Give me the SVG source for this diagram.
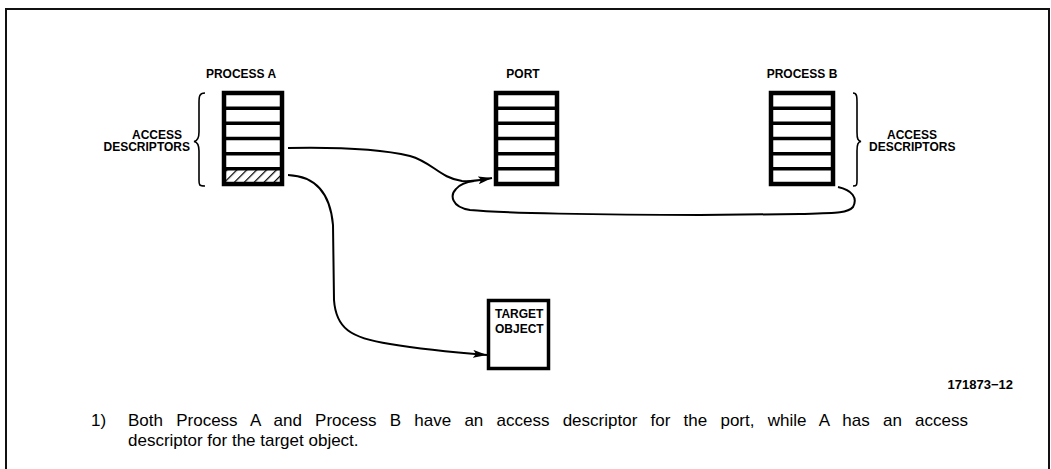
<svg xmlns="http://www.w3.org/2000/svg" width="1051" height="469" viewBox="0 0 1051 469">
  <style>
    .frame { fill: none; stroke: #111; stroke-width: 2; }
    .box { fill: #fff; stroke: #000; stroke-width: 4.5; }
    .div { stroke: #000; stroke-width: 3.5; }
    .brace { fill: none; stroke: #000; stroke-width: 1.6; }
    .wire { fill: none; stroke: #000; stroke-width: 2; }
    .lbl { font-family: "Liberation Sans", Arial, sans-serif; font-weight: bold; font-size: 12px; fill: #000; }
    .cap { font-family: "Liberation Sans", Arial, sans-serif; font-size: 17px; fill: #000; }
  </style>
  <defs>
    <pattern id="hatch" patternUnits="userSpaceOnUse" width="7" height="7" patternTransform="rotate(45)">
      <rect width="7" height="7" fill="#fff"/>
      <line x1="0" y1="0" x2="0" y2="7" stroke="#000" stroke-width="2.5"/>
    </pattern>
    <marker id="arrow" viewBox="0 0 14 8" refX="14" refY="4" markerWidth="14" markerHeight="8" markerUnits="userSpaceOnUse" orient="auto">
      <path d="M0,0 L14,4 L0,8 L3,4 Z" fill="#000"/>
    </marker>
  </defs>

  <!-- page frame -->
  <g id="frame">
    <path class="frame" d="M6,469 L6,9 L1049,9 L1049,469"/>
  </g>

  <!-- process A: access descriptor list -->
  <g id="process-a">
    <text class="lbl" x="241" y="78" text-anchor="middle">PROCESS A</text>
    <rect x="226" y="169.5" width="54" height="12.5" fill="url(#hatch)"/>
    <rect class="box" x="224" y="93" width="58" height="91" style="fill:none"/>
    <line class="div" x1="224" y1="108.2" x2="282" y2="108.2"/>
    <line class="div" x1="224" y1="123.3" x2="282" y2="123.3"/>
    <line class="div" x1="224" y1="138.5" x2="282" y2="138.5"/>
    <line class="div" x1="224" y1="153.7" x2="282" y2="153.7"/>
    <line class="div" x1="224" y1="168.8" x2="282" y2="168.8"/>
    <path class="brace" d="M205,93 C199,93 199,97 199,103 L199,132 C199,139 197,141 194,141.5 C197,142 199,144 199,151 L199,180 C199,185 199,186 205,186"/>
    <text class="lbl" x="182" y="139" text-anchor="end">ACCESS</text>
    <text class="lbl" x="190" y="151" text-anchor="end">DESCRIPTORS</text>
  </g>

  <!-- port: message queue -->
  <g id="port">
    <text class="lbl" x="523" y="78" text-anchor="middle">PORT</text>
    <rect class="box" x="496" y="93" width="61" height="91"/>
    <line class="div" x1="496" y1="108.2" x2="557" y2="108.2"/>
    <line class="div" x1="496" y1="123.3" x2="557" y2="123.3"/>
    <line class="div" x1="496" y1="138.5" x2="557" y2="138.5"/>
    <line class="div" x1="496" y1="153.7" x2="557" y2="153.7"/>
    <line class="div" x1="496" y1="168.8" x2="557" y2="168.8"/>
  </g>

  <!-- process B: access descriptor list -->
  <g id="process-b">
    <text class="lbl" x="802" y="78" text-anchor="middle">PROCESS B</text>
    <rect class="box" x="771" y="93" width="62" height="91"/>
    <line class="div" x1="771" y1="108.2" x2="833" y2="108.2"/>
    <line class="div" x1="771" y1="123.3" x2="833" y2="123.3"/>
    <line class="div" x1="771" y1="138.5" x2="833" y2="138.5"/>
    <line class="div" x1="771" y1="153.7" x2="833" y2="153.7"/>
    <line class="div" x1="771" y1="168.8" x2="833" y2="168.8"/>
    <path class="brace" d="M853,93 C857,93 857,97 857,103 L857,132 C857,139 858,141 861,141.5 C858,142 857,144 857,151 L857,180 C857,185 857,186 853,186"/>
    <text class="lbl" x="887" y="139">ACCESS</text>
    <text class="lbl" x="869" y="151">DESCRIPTORS</text>
  </g>

  <!-- target object -->
  <g id="target">
    <rect x="488.5" y="300.5" width="60" height="68" fill="#fff" stroke="#000" stroke-width="3.5"/>
    <text class="lbl" x="495" y="318">TARGET</text>
    <text class="lbl" x="495" y="333">OBJECT</text>
  </g>

  <!-- connectors -->
  <g id="connectors">
    <path class="wire" marker-end="url(#arrow)" d="M288,148 C340,147 385,150 410,156 C432,162 440,178 462,181 C472,182 480,180 492,178"/>
    <path class="wire" d="M838,187 C852,190 858,198 853,207 C848,213 838,213 800,214 L700,215 C600,215 500,213 470,210 C451,207 450,195 456,189 C460,184 466,182 474,181"/>
    <path class="wire" marker-end="url(#arrow)" d="M288,175 C312,176 330,190 333,225 L334,300 C336,328 350,338 390,344 C420,349 450,352 487,355"/>
  </g>

  <!-- figure number and note -->
  <g id="notes">
    <text class="lbl" x="1013" y="389" text-anchor="end" style="font-size:13px">171873−12</text>
    <text class="cap" x="91" y="426">1)</text>
    <text class="cap" x="128" y="426" word-spacing="8.5">Both Process A and Process B have an access descriptor for the port, while A has an access</text>
    <text class="cap" x="128" y="446">descriptor for the target object.</text>
  </g>
</svg>
